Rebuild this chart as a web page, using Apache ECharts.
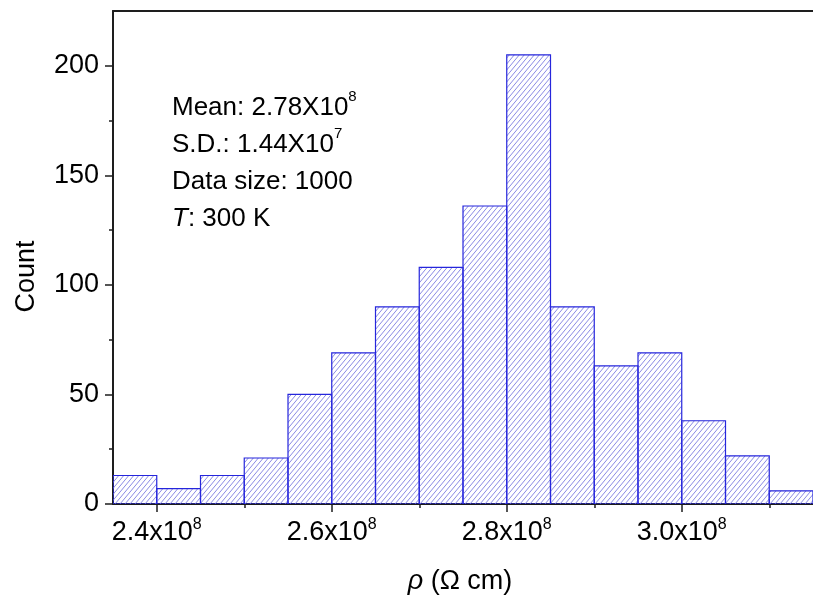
<!DOCTYPE html>
<html><head><meta charset="utf-8">
<script src="https://cdn.jsdelivr.net/npm/echarts@6/dist/echarts.min.js"></script>
<style>html,body{margin:0;padding:0;background:#fff}#c{width:813px;height:604px}</style>
</head><body><div id="c"></div>
<script>
// ---- data ----
const binEdges = [2.35e8, 2.40e8, 2.45e8, 2.50e8, 2.55e8, 2.60e8, 2.65e8, 2.70e8, 2.75e8,
                  2.80e8, 2.85e8, 2.90e8, 2.95e8, 3.00e8, 3.05e8, 3.10e8, 3.15e8];
const counts = [13, 7, 13, 21, 50, 69, 90, 108, 136, 205, 90, 63, 69, 38, 22, 6];
const xMajorTicks = [2.4e8, 2.6e8, 2.8e8, 3.0e8];
const xMinorTicks = [2.5e8, 2.7e8, 2.9e8, 3.1e8];
const yMajorTicks = [0, 50, 100, 150, 200];
const yMinorTicks = [25, 75, 125, 175];
const statsLines = [
  ['Mean: 2.78X10', '8'],
  ['S.D.: 1.44X10', '7'],
  ['Data size: 1000', ''],
  ['T', ': 300 K']
];

const F = '"Liberation Sans", Arial, sans-serif';
const xMin = 2.35e8, xMax = 3.15e8, yMin = 0, yMax = 225;

function hatchCanvas() {
  const c = document.createElement('canvas');
  c.width = 5; c.height = 6;
  const g = c.getContext('2d');
  g.strokeStyle = '#8a8ae4';
  g.lineWidth = 1;
  g.beginPath();
  g.moveTo(-1, 7.2); g.lineTo(6, -1.2);
  g.moveTo(-1, 1.2); g.lineTo(1, -1.2);
  g.moveTo(4, 7.2); g.lineTo(6, 4.8);
  g.stroke();
  return c;
}
const hatch = { image: hatchCanvas(), repeat: 'repeat' };

const barData = counts.map((v, i) => [binEdges[i], binEdges[i + 1], v]);

let statsText = statsLines.map((l, i) => {
  if (i === 3) return '{i|' + l[0] + '}{n|' + l[1] + '}';
  return '{n|' + l[0] + '}' + (l[1] ? '{s|' + l[1] + '}' : '');
}).join('\n');

const axisLineStyle = { color: '#1e1e1e', width: 2 };

const chart = echarts.init(document.getElementById('c'));
chart.setOption({
  animation: false,
  backgroundColor: '#fff',
  grid: { left: 113, right: -4, top: 11, bottom: 100, containLabel: false },
  xAxis: [
    {
      type: 'value', min: xMin, max: xMax, position: 'bottom',
      axisLine: { show: true, lineStyle: axisLineStyle },
      axisTick: { show: true, inside: false, length: 8, customValues: xMajorTicks,
                  lineStyle: { color: '#1e1e1e', width: 1.5 } },
      axisLabel: {
        show: true, customValues: xMajorTicks, margin: 13,
        formatter: v => '{a|' + (v / 1e8).toFixed(1) + 'x10}{s|8}',
        rich: {
          a: { fontSize: 27, fontFamily: F, color: '#000', lineHeight: 31 },
          s: { fontSize: 16, fontFamily: F, color: '#000', lineHeight: 14, verticalAlign: 'top' }
        }
      },
      splitLine: { show: false },
      name: '{i|ρ} (Ω cm)', nameLocation: 'middle', nameGap: 62,
      nameTextStyle: {
        fontSize: 27, fontFamily: F, color: '#000', lineHeight: 31, padding: [0, 6, 0, 0],
        rich: {
          i: { fontSize: 27, fontFamily: F, fontStyle: 'italic', color: '#000', lineHeight: 31 }
        }
      }
    },
    {
      type: 'value', min: xMin, max: xMax, position: 'bottom',
      axisLine: { show: false },
      axisTick: { show: true, length: 4, customValues: xMinorTicks,
                  lineStyle: { color: '#1e1e1e', width: 1.5 } },
      axisLabel: { show: false },
      splitLine: { show: false }
    },
    {
      type: 'value', min: xMin, max: xMax, position: 'top',
      axisLine: { show: true, lineStyle: axisLineStyle },
      axisTick: { show: false }, axisLabel: { show: false }, splitLine: { show: false }
    }
  ],
  yAxis: [
    {
      type: 'value', min: yMin, max: yMax, position: 'left',
      axisLine: { show: true, lineStyle: axisLineStyle },
      axisTick: { show: true, length: 8, customValues: yMajorTicks,
                  lineStyle: { color: '#1e1e1e', width: 1.5 } },
      axisLabel: { show: true, customValues: yMajorTicks, margin: 14,
                   fontSize: 27, fontFamily: F, color: '#000' },
      splitLine: { show: false },
      name: 'Count', nameLocation: 'middle', nameGap: 71, nameRotate: 90,
      nameTextStyle: { fontSize: 27, fontFamily: F, color: '#000', lineHeight: 31,
                       padding: [0, 38, 0, 0] }
    },
    {
      type: 'value', min: yMin, max: yMax, position: 'left',
      axisLine: { show: false },
      axisTick: { show: true, length: 4, customValues: yMinorTicks,
                  lineStyle: { color: '#1e1e1e', width: 1.5 } },
      axisLabel: { show: false },
      splitLine: { show: false }
    }
  ],
  series: [{
    type: 'custom',
    xAxisIndex: 0, yAxisIndex: 0,
    data: barData,
    encode: { x: [0, 1], y: 2 },
    clip: true,
    renderItem: function (params, api) {
      const p0 = api.coord([api.value(0), api.value(2)]);
      const p1 = api.coord([api.value(1), 0]);
      return {
        type: 'rect',
        shape: { x: p0[0], y: p0[1], width: p1[0] - p0[0], height: p1[1] - p0[1] },
        style: { fill: hatch, stroke: '#2626dc', lineWidth: 1.2 }
      };
    }
  }],
  graphic: [{
    type: 'text', left: 172, top: 89, z: 100,
    style: {
      text: statsText,
      rich: {
        n: { fontSize: 26, fontFamily: F, fill: '#000', lineHeight: 37 },
        i: { fontSize: 26, fontFamily: F, fontStyle: 'italic', fill: '#000', lineHeight: 37 },
        s: { fontSize: 15, fontFamily: F, fill: '#000', lineHeight: 20, verticalAlign: 'top' }
      }
    }
  }]
});
</script>
</body></html>
